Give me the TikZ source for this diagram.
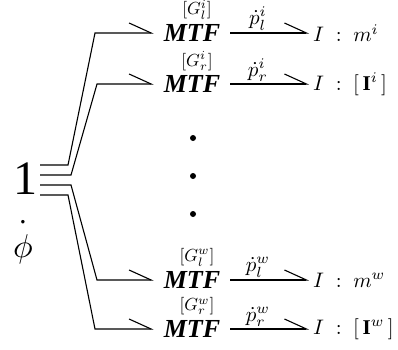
\documentclass[tikz,border=0pt]{standalone}
\usepackage{fontspec}
\setmainfont{Liberation Serif}
\usetikzlibrary{arrows.meta}
\newcommand\smath[2]{\scalebox{#1}{\fontsize{10}{12}\selectfont$#2$}}
\begin{document}
\begin{tikzpicture}[x=1pt,y=-1pt,
  bond/.style={line width=1.1pt, -{Straight Barb[harpoon,length=22pt,width=20pt,line width=1.1pt]}},
  mtf/.style={font=\fontsize{26}{26}\selectfont\bfseries\itshape, inner xsep=10pt, inner ysep=0pt},
  elem/.style={anchor=west, inner xsep=4pt, inner ysep=0pt},
  modl/.style={inner sep=0pt},
  flow/.style={inner sep=2pt, above},
  vdot/.style={circle, fill, inner sep=0pt, minimum size=6pt}]
\useasboundingbox (0,0) rectangle (398,349);

% junction and its flow
\node[font=\fontsize{48}{48}\selectfont, inner sep=0pt] (one) at (25,179) {1};
\node[inner sep=0pt, anchor=base] (phi) at (23,257) {\smath{3.3}{\dot{\phi\rule{0pt}{8.7pt}}}};

% MTF elements
\node[mtf] (mtf1) at (192,33) {MTF};
\node[mtf] (mtf2) at (192,84) {MTF};
\node[mtf] (mtf3) at (192,280) {MTF};
\node[mtf] (mtf4) at (192,329) {MTF};

% moduli
\node[modl] (g1) at (197,10) {\smath{1.75}{[G_l^i]}};
\node[modl] (g2) at (197,61) {\smath{1.75}{[G_r^i]}};
\node[modl] (g3) at (197,257) {\smath{1.75}{[G_l^w]}};
\node[modl] (g4) at (197,306) {\smath{1.75}{[G_r^w]}};

% I elements
\node[elem] (I1) at (309,33) {\smath{2.1}{I\;:\;m^{i}}};
\node[elem] (I2) at (309,84) {\smath{2.1}{I\;:\;[\,\mathbf{I}^{i}\,]}};
\node[elem] (I3) at (309,280) {\smath{2.1}{I\;:\;m^{w}}};
\node[elem] (I4) at (309,329) {\smath{2.1}{I\;:\;[\,\mathbf{I}^{w}\,]}};

% vertical dots
\node[vdot] (d1) at (193,138) {};
\node[vdot] (d2) at (193,176) {};
\node[vdot] (d3) at (193,214) {};

% bonds from the 1-junction
\draw[bond] ([shift={(3,-14)}]one.east) -- (68,165) -- (95,33) -- (mtf1.west);
\draw[bond] ([shift={(3,-4)}]one.east) -- (71,175) -- (97,84) -- (mtf2.west);
\draw[bond] ([shift={(3,6)}]one.east) -- (71,185) -- (97,280) -- (mtf3.west);
\draw[bond] ([shift={(3,16)}]one.east) -- (68,195) -- (95,329) -- (mtf4.west);

% bonds to the I elements
\draw[bond] (mtf1.east) -- node[flow, pos=0.35] {\smath{2.1}{\dot p_l^i}} (I1.west);
\draw[bond] (mtf2.east) -- node[flow, pos=0.35] {\smath{2.1}{\dot p_r^i}} (I2.west);
\draw[bond] (mtf3.east) -- node[flow, pos=0.35] {\smath{2.1}{\dot p_l^w}} (I3.west);
\draw[bond] (mtf4.east) -- node[flow, pos=0.35] {\smath{2.1}{\dot p_r^w}} (I4.west);
\end{tikzpicture}
\end{document}
